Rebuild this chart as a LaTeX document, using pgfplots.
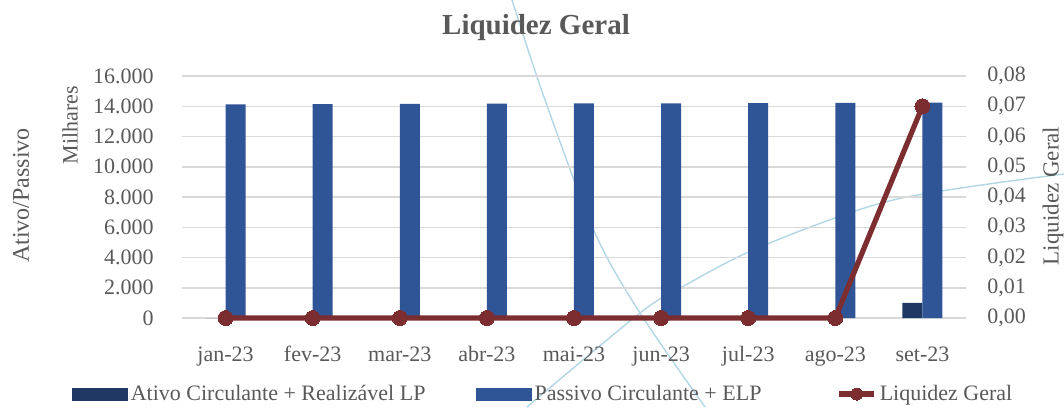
\documentclass[border=0pt]{standalone}
\usepackage{fontspec}
\setmainfont{Liberation Serif}
\usepackage{pgfplots}
\pgfplotsset{compat=1.18}
\definecolor{darkbar}{RGB}{31,56,100}
\definecolor{bluebar}{RGB}{47,85,151}
\definecolor{linered}{RGB}{124,45,48}
\definecolor{textgray}{RGB}{89,89,89}
\definecolor{gridgray}{RGB}{217,217,217}
\definecolor{deco}{RGB}{178,214,228}
\pgfplotsset{
  mylinelegend/.style={legend image code/.code={\draw[##1, mark size=3pt, mark repeat=2, mark phase=2] plot coordinates {(0pt,0.2pt) (8.75pt,0.2pt) (17.5pt,0.2pt)};}},
  darklegend/.style={legend image code/.code={\fill[darkbar] (0pt,-3pt) rectangle (27.5pt,3pt);}},
  bluelegend/.style={legend image code/.code={\fill[bluebar] (0pt,-3pt) rectangle (27.5pt,3pt);}},
}
\begin{document}
\begin{tikzpicture}
\path[use as bounding box] (-91pt,-44.5pt) rectangle (441pt,159pt);
% decorative background curves
\draw[deco, line width=0.7pt] plot[smooth] coordinates {(165pt,159pt) (181.5pt,109pt) (206.5pt,42.5pt) (229pt,2.5pt) (261.5pt,-44.5pt)};
\draw[deco, line width=0.7pt] plot[smooth] coordinates {(172.5pt,-44.5pt) (229pt,2.5pt) (250pt,15.5pt) (289pt,35.5pt) (355.5pt,59pt) (441pt,72pt)};
\begin{axis}[
  at={(0pt,0pt)}, anchor=south west, scale only axis,
  width=392pt, height=121pt,
  xmin=-0.5, xmax=8.5, ymin=0, ymax=16000, enlargelimits=false,
  ybar=0pt, bar width=10pt,
  xtick={0,...,8},
  xticklabels={jan-23,fev-23,mar-23,abr-23,mai-23,jun-23,jul-23,ago-23,set-23},
  ytick={0,2000,4000,6000,8000,10000,12000,14000,16000},
  ymajorgrids, grid style={gridgray, line width=0.75pt},
  axis line style={draw=none}, major tick style={draw=none},
  scaled y ticks=false,
  every tick label/.append style={font=\fontsize{11}{13}\selectfont, text=textgray},
  yticklabel style={anchor=east, inner sep=0pt, xshift=-14pt,
    /pgf/number format/fixed, /pgf/number format/1000 sep={.}, /pgf/number format/assume math mode=true},
  xticklabel style={anchor=base, inner sep=0pt, yshift=-17.5pt},
]
\addplot[fill=darkbar, draw=none] coordinates {(0,0) (1,0) (2,0) (3,0) (4,0) (5,0) (6,0) (7,0) (8,1000)};
\addplot[fill=bluebar, draw=none] coordinates {(0,14130) (1,14140) (2,14150) (3,14180) (4,14190) (5,14190) (6,14200) (7,14220) (8,14240)};
\end{axis}
\begin{axis}[
  at={(0pt,0pt)}, anchor=south west, scale only axis,
  width=392pt, height=121pt,
  xmin=-0.5, xmax=8.5, ymin=0, ymax=0.08, enlargelimits=false,
  xtick=\empty,
  ytick={0,0.01,0.02,0.03,0.04,0.05,0.06,0.07,0.08},
  yticklabel pos=right,
  axis line style={draw=none}, major tick style={draw=none},
  scaled y ticks=false,
  every tick label/.append style={font=\fontsize{11}{13}\selectfont, text=textgray},
  yticklabel style={anchor=west, inner sep=0pt, xshift=10.5pt,
    /pgf/number format/fixed, /pgf/number format/fixed zerofill, /pgf/number format/precision=2,
    /pgf/number format/use comma, /pgf/number format/assume math mode=true},
  clip=false,
  legend columns=3,
  legend cell align=left,
  legend style={at={(axis description cs:-0.1403,-0.316)}, anchor=west,
    draw=none, fill=none, inner sep=0pt, outer sep=0pt,
    font=\fontsize{11}{13}\selectfont, text=textgray,
    nodes={inner sep=0pt},
    /tikz/every odd column/.append style={column sep=1.5pt}},
]
\addlegendimage{darklegend}
\addlegendentry{\makebox[172.5pt][l]{Ativo Circulante + Realizável LP}}
\addlegendimage{bluelegend}
\addlegendentry{\makebox[151pt][l]{Passivo Circulante + ELP}}
\addplot[linered, line width=2.6pt, mark=*, mark size=3.75pt,
  mark options={fill=linered, draw=linered, line width=0pt}, mylinelegend]
  coordinates {(0,0) (1,0) (2,0) (3,0) (4,0) (5,0) (6,0) (7,0) (8,0.07)};
\addlegendentry{Liquidez Geral}
\end{axis}
\node[anchor=base, font=\bfseries\fontsize{14.5}{17}\selectfont, text=textgray] at (177pt,141.5pt) {Liquidez Geral};
\node[rotate=90, font=\fontsize{11}{13}\selectfont, text=textgray] at (-56pt,96.5pt) {Milhares};
\node[rotate=90, font=\fontsize{12}{14}\selectfont, text=textgray] at (-80.5pt,61.25pt) {Ativo/Passivo};
\node[rotate=90, font=\fontsize{11.5}{14}\selectfont, text=textgray] at (435.5pt,61pt) {Liquidez Geral};
\end{tikzpicture}
\end{document}
